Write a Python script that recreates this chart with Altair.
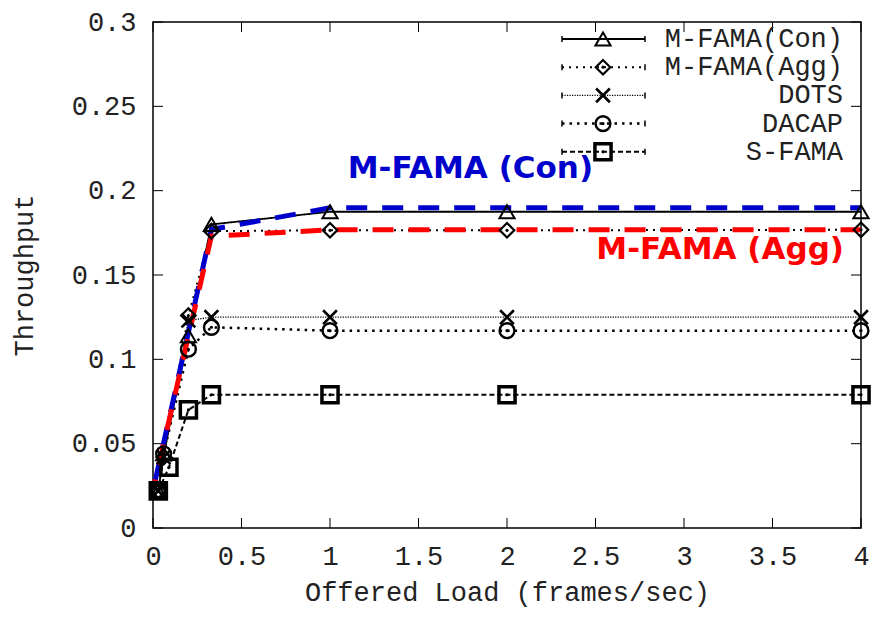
import altair as alt
import pandas as pd

W, H = 708, 506

# ---- data ----
series_names = ["M-FAMA(Con)", "M-FAMA(Agg)", "DOTS", "DACAP", "S-FAMA"]
load = [0.03, 0.06, 0.2, 0.33, 1, 2, 4]
load_sfama = [0.03, 0.09, 0.2, 0.33, 1, 2, 4]
thr_con = [0.022, 0.044, 0.114, 0.180, 0.1875, 0.1875, 0.1875]
thr_agg = [0.022, 0.042, 0.126, 0.176, 0.1765, 0.1765, 0.1768]
thr_dots = [0.022, 0.042, 0.123, 0.125, 0.125, 0.125, 0.125]
thr_dacap = [0.022, 0.044, 0.106, 0.119, 0.117, 0.117, 0.117]
thr_sfama = [0.022, 0.036, 0.070, 0.079, 0.079, 0.079, 0.079]

# highlighted (annotated) curves
hl_load = [0.01, 0.33, 1, 4]
hl_con = [0.027, 0.177, 0.1898, 0.1898]
hl_agg = [0.027, 0.173, 0.1768, 0.1768]

# annotation labels (text, x, y)
ann_text = ["M-FAMA (Con)", "M-FAMA (Agg)"]
ann_x = [1.1, 3.904]
ann_y = [0.213, 0.1648]

x_ticks = [0, 0.5, 1, 1.5, 2, 2.5, 3, 3.5, 4]
y_ticks = [0, 0.05, 0.1, 0.15, 0.2, 0.25, 0.3]

# ---- styles ----
MONO = "Liberation Mono"
TXT = "#222222"
xs = {"M-FAMA(Con)": load, "M-FAMA(Agg)": load, "DOTS": load, "DACAP": load, "S-FAMA": load_sfama}
ys = {"M-FAMA(Con)": thr_con, "M-FAMA(Agg)": thr_agg, "DOTS": thr_dots, "DACAP": thr_dacap, "S-FAMA": thr_sfama}
styles = {
    "M-FAMA(Con)": dict(dash=[1, 0], lw=1.8, shape="triangle-up", size=230, mw=2.0, dot=False),
    "M-FAMA(Agg)": dict(dash=[2, 5], lw=2.0, shape="diamond", size=210, mw=2.2, dot=True),
    "DOTS": dict(dash=[1.2, 1.3], lw=1.4, shape="M-1,-1L1,1M-1,1L1,-1", size=190, mw=2.6, dot=False),
    "DACAP": dict(dash=[2.5, 5], lw=2.5, shape="circle", size=220, mw=2.4, dot=True),
    "S-FAMA": dict(dash=[5, 3], lw=2.0, shape="square", size=260, mw=3.5, dot=True),
}

xscale = alt.Scale(domain=[0, 4], nice=False, zero=False)
yscale = alt.Scale(domain=[0, 0.3], nice=False, zero=False)

X_AX = alt.Axis(values=x_ticks, format="~g", title="Offered Load (frames/sec)",
                labelPadding=15, titlePadding=10, labelFlush=False)
Y_AX = alt.Axis(values=y_ticks, format="~g", title="Throughput",
                labelPadding=17, titlePadding=33)


def X():
    return alt.X("x:Q", scale=xscale, axis=X_AX)


def Y():
    return alt.Y("y:Q", scale=yscale, axis=Y_AX)


layers = []

# inward tick marks on all four sides
xt = pd.DataFrame({"x": x_ticks})
yt = pd.DataFrame({"y": y_ticks})
tick_len = 10
layers.append(alt.Chart(xt).mark_rule(color="black", strokeWidth=1).encode(
    x=X(), y=alt.value(H), y2=alt.value(H - tick_len)))
layers.append(alt.Chart(xt).mark_rule(color="black", strokeWidth=1).encode(
    x=X(), y=alt.value(0), y2=alt.value(tick_len)))
layers.append(alt.Chart(yt).mark_rule(color="black", strokeWidth=1).encode(
    y=Y(), x=alt.value(0), x2=alt.value(tick_len)))
layers.append(alt.Chart(yt).mark_rule(color="black", strokeWidth=1).encode(
    y=Y(), x=alt.value(W - tick_len), x2=alt.value(W)))

frames = {n: pd.DataFrame({"x": xs[n], "y": ys[n], "series": n}) for n in series_names}

# series lines
for n in series_names:
    st = styles[n]
    layers.append(alt.Chart(frames[n]).mark_line(
        color="black", strokeWidth=st["lw"], strokeDash=st["dash"]).encode(x=X(), y=Y()))

# highlighted dashed curves
hl_c = pd.DataFrame({"x": hl_load, "y": hl_con})
hl_a = pd.DataFrame({"x": hl_load, "y": hl_agg})
layers.append(alt.Chart(hl_c).mark_line(color="#0000CC", strokeWidth=5, strokeDash=[21, 15]).encode(x=X(), y=Y()))
layers.append(alt.Chart(hl_a).mark_line(color="#FF0000", strokeWidth=5, strokeDash=[21, 15],
                                        strokeDashOffset=18).encode(x=X(), y=Y()))

# markers
for n in series_names:
    st = styles[n]
    layers.append(alt.Chart(frames[n]).mark_point(
        shape=st["shape"], size=st["size"], filled=False, color="black",
        strokeWidth=st["mw"], opacity=1).encode(x=X(), y=Y()))
    if st["dot"]:
        layers.append(alt.Chart(frames[n]).mark_point(
            shape="circle", size=10, filled=True, color="black", opacity=1).encode(x=X(), y=Y()))

# custom legend (top right, inside plot)
lx0, lx1, lxm, ltx = 409, 492, 450, 690
for i, n in enumerate(series_names):
    st = styles[n]
    ly = 17 + 28.2 * i
    one = pd.DataFrame({"series": [n]})
    layers.append(alt.Chart(one).mark_rule(color="black", strokeWidth=st["lw"], strokeDash=st["dash"]).encode(
        x=alt.value(lx0), x2=alt.value(lx1), y=alt.value(ly)))
    for cx in (lx0, lx1):
        layers.append(alt.Chart(one).mark_rule(color="black", strokeWidth=1.5).encode(
            x=alt.value(cx), y=alt.value(ly - 3), y2=alt.value(ly + 3)))
    layers.append(alt.Chart(one).mark_point(
        shape=st["shape"], size=st["size"], filled=False, color="black",
        strokeWidth=st["mw"], opacity=1).encode(x=alt.value(lxm), y=alt.value(ly)))
    if st["dot"]:
        layers.append(alt.Chart(one).mark_point(shape="circle", size=10, filled=True, color="black",
                                                opacity=1).encode(x=alt.value(lxm), y=alt.value(ly)))
    layers.append(alt.Chart(one).mark_text(font=MONO, fontSize=27, color=TXT, align="right",
                                           baseline="middle").encode(
        x=alt.value(ltx), y=alt.value(ly), text="series:N"))

# annotations
ann = pd.DataFrame({"x": ann_x, "y": ann_y, "t": ann_text})
layers.append(alt.Chart(ann.iloc[[0]]).mark_text(
    font="DejaVu Sans", fontWeight="bold", fontSize=31, color="#0000CC", align="left",
    baseline="middle").encode(x=X(), y=Y(), text="t:N"))
layers.append(alt.Chart(ann.iloc[[1]]).mark_text(
    font="DejaVu Sans", fontWeight="bold", fontSize=31, color="#FF0000", align="right",
    baseline="middle").encode(x=X(), y=Y(), text="t:N"))

chart = alt.layer(*layers).properties(
    width=W, height=H,
    autosize=alt.AutoSizeParams(type="none"),
    padding={"left": 145, "top": 14, "right": 10, "bottom": 83},
).configure_view(
    stroke="black", strokeWidth=1.5
).configure_axis(
    labelFont=MONO, labelFontSize=27, labelColor=TXT,
    titleFont=MONO, titleFontSize=27, titleFontWeight="normal", titleColor=TXT,
    ticks=False, domain=False, grid=False,
)

chart.save("out.html", embed_options={"renderer": "svg", "actions": False})
